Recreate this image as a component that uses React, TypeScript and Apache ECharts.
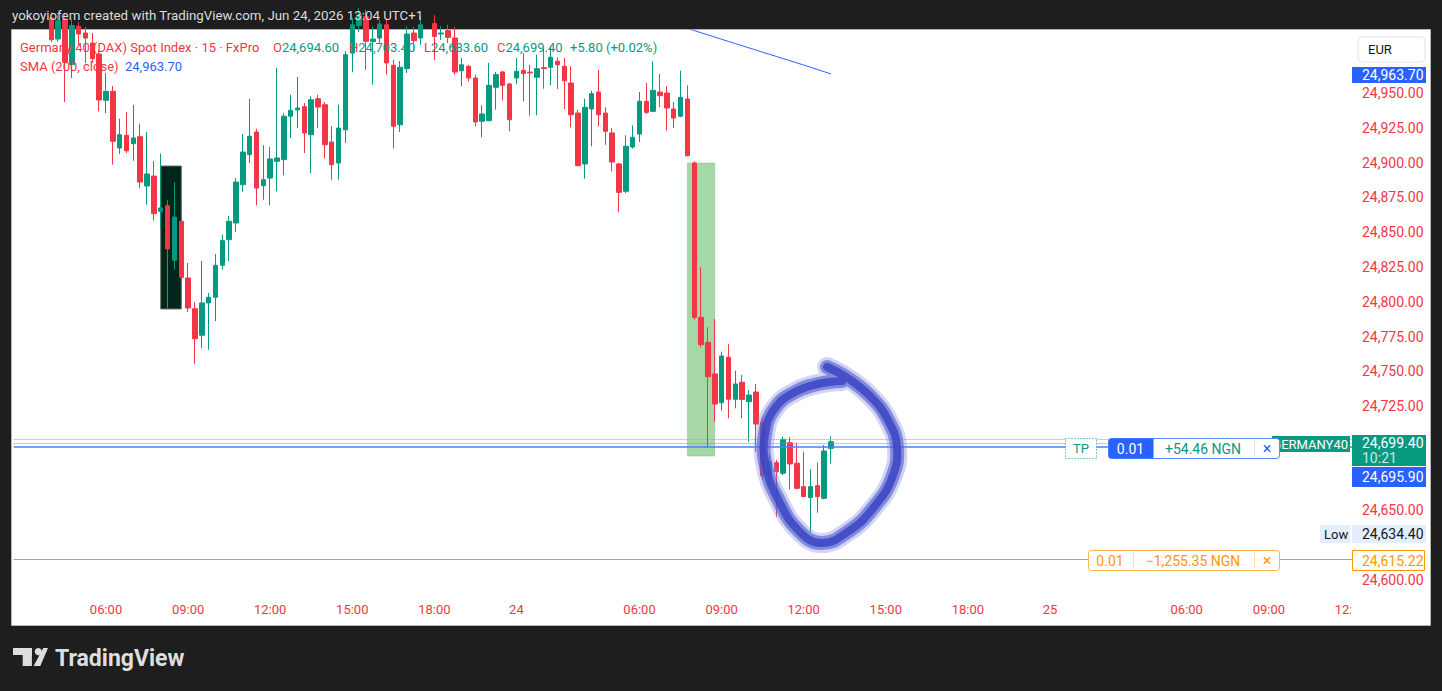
import React, { useEffect, useRef } from "react";
import * as echarts from "echarts";

// ---- data (15-minute bars, index 0 = first slot at the left edge) ----
const openP = [
  25012, 25018, 25010, 25015, 25006, 25004, 24988.8, 25003, 24970.3, 24998.0,
  24993.1, 24985.9, 24978.0, 24944.8, 24951.2, 24910.5, 24919.6, 24913.6, 24918.6, 24883.2,
  24890.3, 24865.0, 24869.0, 24829.8, 24857.8, 24817.0, 24795.0, 24775.9, 24799.1, 24803.2,
  24826.2, 24844.6, 24856.6, 24884.1, 24905.7, 24922.0, 24883.4, 24888.9, 24900.9, 24902.1,
  24933.3, 24937.8, 24940.2, 24920.0, 24945.9, 24941.6, 24914.8, 24899.7, 24923.6, 24978.7,
  24998.5, 25005, 24986.9, 24989.5, 24999.0, 24969.9, 24927.2, 24967.5, 24993.1, 24989.5,
  25004, 25000, 24992.4, 24994.8, 24989.5, 24966.0, 24969.2, 24960.8, 24929.7, 24930.1,
  24954.1, 24965.1, 24956.5, 24960.8, 24966.3, 24965.0, 24961.3, 24968.2, 24968.5, 24972.8,
  24969.2, 24957.2, 24935.6, 24899.0, 24938.5, 24950.7, 24935.6, 24921.3, 24899.0, 24879.4,
  24911.2, 24920.5, 24944.0, 24936.8, 24950.7, 24950.0, 24938.5, 24933.3, 24945.7, 24899.7,
  24788.8, 24770.8, 24748.1, 24727.4, 24760.1, 24729.9, 24742.1, 24728.1, 24735.1, 24713.3,
  24674.2, 24684.3, 24676.7, 24698.7, 24683.9, 24667.1, 24659.2, 24667.8, 24658.7, 24694.6,
];
const closeP = [
  25018, 25010, 25015, 25006, 25009, 24988.3, 25002, 24972.1, 24998.5, 24992.4,
  24989.5, 24974.7, 24945.0, 24951.2, 24915.3, 24920.0, 24908.5, 24917.7, 24886.0, 24891.8,
  24863.3, 24867.4, 24837.9, 24860.9, 24817.5, 24795.5, 24773.4, 24799.1, 24803.2, 24826.2,
  24843.9, 24857.8, 24886.0, 24907.6, 24918.9, 24881.7, 24887.7, 24902.6, 24903.3, 24933.3,
  24937.6, 24939.2, 24921.3, 24945.2, 24939.9, 24912.8, 24898.5, 24924.8, 24977.5, 24999.0,
  25006, 24987.2, 24988.8, 24999.5, 24971.6, 24926.1, 24968.5, 24992.4, 24987.6, 24999.0,
  24999.5, 24990.7, 24993.1, 24990.0, 24965.1, 24970.3, 24960.8, 24929.2, 24934.9, 24955.5,
  24963.2, 24955.5, 24930.8, 24965.6, 24963.9, 24964.4, 24967.5, 24967.6, 24975.7, 24970.3,
  24958.8, 24934.4, 24897.8, 24939.7, 24949.5, 24934.4, 24922.5, 24900.4, 24878.6, 24911.7,
  24918.2, 24944.0, 24936.1, 24951.9, 24948.1, 24939.2, 24932.0, 24946.9, 24904.9, 24788.8,
  24769.1, 24746.1, 24726.5, 24761.0, 24729.9, 24740.9, 24729.8, 24732.9, 24712.1, 24674.9,
  24685.0, 24677.8, 24701.1, 24683.4, 24665.9, 24659.9, 24667.1, 24659.9, 24692.7, 24699.4,
];
const lowP = [
  25005, 25004, 25003, 25001, 25000, 24986.7, 24986.7, 24943.5, 24960.8, 24984.5,
  24971.6, 24971.6, 24936.8, 24935.6, 24898.5, 24906.2, 24906.9, 24901.3, 24881.7, 24869.7,
  24858.2, 24853.0, 24795.5, 24823.0, 24797.9, 24792.6, 24755.2, 24766.7, 24765.5, 24786.1,
  24823.0, 24829.3, 24850.1, 24878.9, 24899.7, 24869.3, 24873.3, 24869.3, 24879.4, 24890.9,
  24917.7, 24924.8, 24906.9, 24892.5, 24924.8, 24902.8, 24887.7, 24887.7, 24914.1, 24964.9,
  24994, 24966.7, 24956.0, 24986.0, 24963.2, 24910.0, 24922.0, 24964.4, 24980.2, 24984.5,
  24995.5, 24973.7, 24988.1, 24985.9, 24963.2, 24954.8, 24958.4, 24926.1, 24918.2, 24929.7,
  24938.0, 24944.5, 24922.5, 24956.5, 24944.0, 24933.7, 24934.0, 24953.1, 24955.5, 24952.9,
  24938.5, 24925.3, 24897.3, 24888.4, 24911.7, 24926.1, 24912.8, 24893.7, 24864.3, 24878.1,
  24910.0, 24914.8, 24934.9, 24936.5, 24939.9, 24922.9, 24924.8, 24932.5, 24904.5, 24787.1,
  24767.2, 24695.8, 24713.8, 24721.7, 24716.2, 24723.4, 24716.2, 24699.4, 24692.2, 24671.9,
  24668.3, 24645.5, 24675.5, 24665.2, 24665.2, 24659.6, 24634.4, 24648.4, 24658.0, 24683.6,
];
const highP = [
  25024, 25022, 25020, 25019, 25014, 25008, 25006, 25007, 25003, 25001,
  24997.5, 24993.1, 24980.9, 24964.4, 24955.0, 24931.5, 24936.3, 24941.4, 24927.9, 24922.0,
  24901.1, 24906.4, 24873.1, 24886.0, 24870.9, 24827.8, 24799.8, 24829.3, 24806.3, 24834.3,
  24848.2, 24861.6, 24888.9, 24920.5, 24945.9, 24924.3, 24912.4, 24911.2, 24968.0, 24935.6,
  24948.8, 24961.5, 24942.8, 24947.6, 24948.8, 24943.5, 24926.1, 24941.6, 24980.2, 25004,
  25011, 25010, 24998, 25003, 25004, 24973.9, 24973.0, 24998, 24997.5, 25005,
  25010, 25006, 24998, 24999, 24997.5, 24975.2, 24970.3, 24963.2, 24941.2, 24971.6,
  24965.1, 24965.8, 24957.2, 24975.2, 24978.7, 24970.3, 24977.5, 24981.8, 24983.8, 24975.7,
  24975.2, 24969.2, 24938.0, 24945.9, 24951.7, 24966.7, 24939.7, 24924.8, 24899.7, 24919.6,
  24926.8, 24950.7, 24957.2, 24972.8, 24963.7, 24954.8, 24943.5, 24966.0, 24955.5, 24900.9,
  24824.7, 24781.6, 24787.4, 24764.1, 24769.4, 24750.4, 24747.3, 24736.5, 24740.9, 24717.1,
  24689.8, 24686.2, 24703.0, 24702.6, 24698.7, 24692.2, 24679.6, 24684.3, 24697.0, 24703.4,
];
const smaStart = 93;
const smaValues = [
  25004.5, 25002.9, 25001.3, 24999.6, 24998.0, 24996.4, 24994.9, 24993.3, 24991.8, 24990.2,
  24988.6, 24987.1, 24985.5, 24984.0, 24982.4, 24980.9, 24979.3, 24977.8, 24976.3, 24974.7,
  24973.2, 24971.6, 24970.1, 24968.5, 24966.9, 24965.3, 24963.7,
];
const slotCount = 196;
const timeLabelIdx = [13, 25, 37, 49, 61, 73, 91, 103, 115, 127, 139, 151, 171, 183, 195];
const timeLabelText = ["06:00", "09:00", "12:00", "15:00", "18:00", "24", "06:00", "09:00", "12:00", "15:00", "18:00", "25", "06:00", "09:00", "12:00"];
const hiddenPriceTicks = [25000, 24975, 24700, 24675, 24625, 24575];
const stopPrice = 24615.22;
const entryPrice = 24695.9;
const askPrice = 24701.0;
const bidPrice = 24698.3;
const boxDark = { x0: "21", x1: "24", y0: 24897.5, y1: 24794.8 };
const boxGreen = { x0: "98", x1: "102", y0: 24899.7, y1: 24689.1 };

const FONT = "Roboto, 'Noto Sans', sans-serif";
const RED = "#f23645";
const GREEN = "#089981";
const BLUE = "#2962ff";
const ORANGE = "#ff9800";

function fmt(v: number) {
  return v.toLocaleString("en-US", { minimumFractionDigits: 2, maximumFractionDigits: 2 });
}

const ringPoints = [
  [827, 367], [849, 379], [871, 397], [888, 420], [897, 447], [892, 478], [874, 507], [849, 531], [821, 543],
  [798, 530], [779, 501], [766, 467], [765, 434], [775, 408], [795, 392], [818, 384], [842, 381],
];

export default function App() {
  const ref = useRef<HTMLDivElement>(null);
  useEffect(() => {
    if (!ref.current) return;
    const chart = echarts.init(ref.current, undefined, { renderer: "svg" });
    const categories = Array.from({ length: slotCount }, (_, i) => String(i));
    const labelMap: Record<number, string> = {};
    timeLabelIdx.forEach((idx, k) => (labelMap[idx] = timeLabelText[k]));
    const candleData = openP.map((o, i) => [o, closeP[i], lowP[i], highP[i]]);
    const smaData = openP.map((_, i) => (i >= smaStart ? smaValues[i - smaStart] : null));

    const txt = (x: number, y: number, text: string, fill: string, size = 13, extra: any = {}) => ({
      type: "text",
      x,
      y,
      z: 100,
      style: { text, fill, font: `${extra.weight || "normal"} ${size}px ${FONT}`, textVerticalAlign: "middle", textAlign: extra.align || "left", ...(extra.style || {}) },
    });
    const rect = (x: number, y: number, w: number, h: number, style: any, r: any = 0) => ({
      type: "rect",
      z: 100,
      shape: { x, y, width: w, height: h, r },
      style,
    });
    const ring = (lw: number, stroke: string, opacity: number) => ({
      type: "polyline",
      z: 90,
      shape: { points: ringPoints, smooth: 0.45 },
      style: { stroke, lineWidth: lw, fill: null, lineCap: "round", lineJoin: "round", opacity },
    });
    const rich = { r: { fill: RED, font: `13px ${FONT}` }, g: { fill: GREEN, font: `13px ${FONT}` } };

    const graphics: any[] = [
      { type: "rect", z: 0, shape: { x: 11.5, y: 29.5, width: 1419, height: 596 }, style: { fill: "#ffffff", stroke: "#b5b5b5", lineWidth: 1 } },
      txt(12, 15, "yokoyiofem created with TradingView.com, Jun 24, 2026 13:04 UTC+1", "#dcdcdc", 13.3),
      // legend
      txt(20, 47, "Germany 40 (DAX) Spot Index · 15 · FxPro", RED, 13),
      { type: "text", x: 273, y: 47, z: 100, style: { text: "{r|O}{g|24,694.60}", textVerticalAlign: "middle", rich } },
      { type: "text", x: 349, y: 47, z: 100, style: { text: "{r|H}{g|24,703.40}", textVerticalAlign: "middle", rich } },
      { type: "text", x: 424, y: 47, z: 100, style: { text: "{r|L}{g|24,683.60}", textVerticalAlign: "middle", rich } },
      { type: "text", x: 497, y: 47, z: 100, style: { text: "{r|C}{g|24,699.40}", textVerticalAlign: "middle", rich } },
      txt(570, 47, "+5.80 (+0.02%)", GREEN, 13),
      txt(20, 66, "SMA (200, close)", RED, 13),
      txt(125, 66, "24,963.70", BLUE, 13),
      // hand-drawn brush ring
      ring(20, "#7d86e0", 0.35),
      ring(14, "#4f59cf", 0.6),
      ring(8, "#3a44c4", 0.85),
      // cover clipped time label beyond the price scale
      rect(1351, 597, 78, 27, { fill: "#ffffff" }),
      // right price scale tags
      rect(1358, 37, 67, 25, { fill: "#ffffff", stroke: "#e0e3eb", lineWidth: 1 }, 4),
      txt(1368, 49.5, "EUR", "#131722", 13),
      rect(1352, 67, 74, 16, { fill: BLUE }),
      txt(1362, 75, "24,963.70", "#ffffff", 14),
      rect(1272, 436, 78, 16, { fill: GREEN }),
      txt(1348, 444, "GERMANY40", "#ffffff", 13, { align: "right" }),
      rect(1352, 435, 74, 31, { fill: GREEN }),
      txt(1362, 443, "24,699.40", "#ffffff", 14),
      txt(1362, 458, "10:21", "rgba(255,255,255,0.8)", 14),
      rect(1352, 467, 74, 20, { fill: BLUE }),
      txt(1362, 477, "24,695.90", "#ffffff", 14),
      rect(1320, 525, 30, 18, { fill: "#e3effd" }),
      txt(1324, 534, "Low", "#131722", 13),
      rect(1352, 525, 74, 18, { fill: "#e3effd" }),
      txt(1362, 534, "24,634.40", "#131722", 14),
      rect(1352.5, 550.5, 72, 20, { fill: "#ffffff", stroke: ORANGE, lineWidth: 1 }),
      txt(1362, 560.5, "24,615.22", ORANGE, 14),
      // TP / order labels
      rect(1065.5, 438.5, 31, 20, { fill: "#ffffff", stroke: GREEN, lineWidth: 1, lineDash: [1, 2] }),
      txt(1081, 448.5, "TP", GREEN, 13, { align: "center" }),
      rect(1108.5, 438.5, 171, 20, { fill: "#ffffff", stroke: "#5b86ff", lineWidth: 1 }, 3),
      rect(1108.5, 438.5, 45, 20, { fill: BLUE }, [3, 0, 0, 3]),
      txt(1130.5, 448.5, "0.01", "#ffffff", 14, { align: "center" }),
      txt(1203, 448.5, "+54.46 NGN", GREEN, 14, { align: "center" }),
      { type: "line", z: 100, shape: { x1: 1254.5, y1: 440, x2: 1254.5, y2: 457 }, style: { stroke: "#e0e3eb", lineWidth: 1 } },
      txt(1267, 448.5, "×", BLUE, 16, { align: "center" }),
      rect(1088.5, 550.5, 191, 20, { fill: "#ffffff", stroke: "#ffb547", lineWidth: 1 }, 3),
      txt(1110, 560.5, "0.01", ORANGE, 14, { align: "center" }),
      { type: "line", z: 100, shape: { x1: 1133.5, y1: 552, x2: 1133.5, y2: 569 }, style: { stroke: "#ffe0b2", lineWidth: 1 } },
      txt(1193, 560.5, "−1,255.35 NGN", ORANGE, 14, { align: "center" }),
      { type: "line", z: 100, shape: { x1: 1254.5, y1: 552, x2: 1254.5, y2: 569 }, style: { stroke: "#ffe0b2", lineWidth: 1 } },
      txt(1267, 560.5, "×", ORANGE, 16, { align: "center" }),
      // TradingView logo
      rect(13, 648, 19, 7, { fill: "#dedede" }),
      rect(22.7, 648, 9.2, 18, { fill: "#dedede" }),
      { type: "circle", z: 100, shape: { cx: 38.3, cy: 651.6, r: 3.6 }, style: { fill: "#dedede" } },
      { type: "polygon", z: 100, shape: { points: [[43.3, 648], [48, 648], [40.3, 666], [33.6, 666]] }, style: { fill: "#dedede" } },
      txt(55, 658, "TradingView", "#dedede", 23, { weight: "bold" }),
    ];

    chart.setOption({
      animation: false,
      backgroundColor: "#1e1e1e",
      grid: [
        { left: 13.68, top: 30, width: 6.84 * slotCount, height: 565, outerBoundsMode: "none", containLabel: false },
        { left: 1350, top: 23.43, width: 1, height: 591.36, outerBoundsMode: "none", containLabel: false },
      ],
      xAxis: [
        {
          type: "category",
          gridIndex: 0,
          data: categories,
          boundaryGap: true,
          axisLine: { show: false },
          axisTick: { show: false },
          splitLine: { show: false },
          axisLabel: {
            interval: (index: number) => labelMap[index] !== undefined,
            formatter: (_v: string, index: number) => labelMap[index] ?? "",
            color: RED,
            fontSize: 13,
            fontFamily: FONT,
            margin: 8,
          },
        },
        { type: "value", gridIndex: 1, show: false, min: 0, max: 1 },
      ],
      yAxis: [
        { type: "value", gridIndex: 0, show: false, min: 24589.22, max: 24995.28, splitLine: { show: false } },
        {
          type: "value",
          gridIndex: 1,
          position: "right",
          min: 24575,
          max: 25000,
          interval: 25,
          axisLine: { show: false },
          axisTick: { show: false },
          splitLine: { show: false },
          axisLabel: {
            color: RED,
            fontSize: 14,
            fontFamily: FONT,
            margin: 11,
            formatter: (v: number) => (hiddenPriceTicks.includes(Math.round(v)) ? "" : fmt(v)),
          },
        },
      ],
      series: [
        {
          type: "candlestick",
          xAxisIndex: 0,
          yAxisIndex: 0,
          data: candleData,
          barWidth: 5,
          clip: true,
          itemStyle: { color: GREEN, color0: RED, borderColor: GREEN, borderColor0: RED, borderWidth: 1 },
          markArea: {
            silent: true,
            data: [
              [
                { xAxis: boxDark.x0, yAxis: boxDark.y0, itemStyle: { color: "#00261c", borderColor: "#5b6b60", borderWidth: 1 } },
                { xAxis: boxDark.x1, yAxis: boxDark.y1 },
              ],
              [
                { xAxis: boxGreen.x0, yAxis: boxGreen.y0, itemStyle: { color: "rgba(76,175,80,0.5)", borderColor: "rgba(76,175,80,0.3)", borderWidth: 1 } },
                { xAxis: boxGreen.x1, yAxis: boxGreen.y1 },
              ],
            ],
          },
          markLine: {
            silent: true,
            symbol: "none",
            label: { show: false },
            data: [
              { yAxis: stopPrice, lineStyle: { color: ORANGE, width: 1, type: "solid" } },
              { yAxis: askPrice, lineStyle: { color: "#f77c80", width: 1, type: "dotted" } },
              { yAxis: bidPrice, lineStyle: { color: "#6f93ff", width: 1, type: "dotted" } },
              { yAxis: entryPrice, lineStyle: { color: "#4f7dff", width: 1.5, type: "solid" } },
            ],
          },
        },
        {
          type: "line",
          xAxisIndex: 0,
          yAxisIndex: 0,
          data: smaData,
          symbol: "none",
          clip: true,
          lineStyle: { color: BLUE, width: 1 },
          z: 3,
        },
      ],
      graphic: { elements: graphics },
    });
    return () => chart.dispose();
  }, []);
  return <div ref={ref} style={{ position: "fixed", left: 0, top: 0, width: 1442, height: 691 }} />;
}
